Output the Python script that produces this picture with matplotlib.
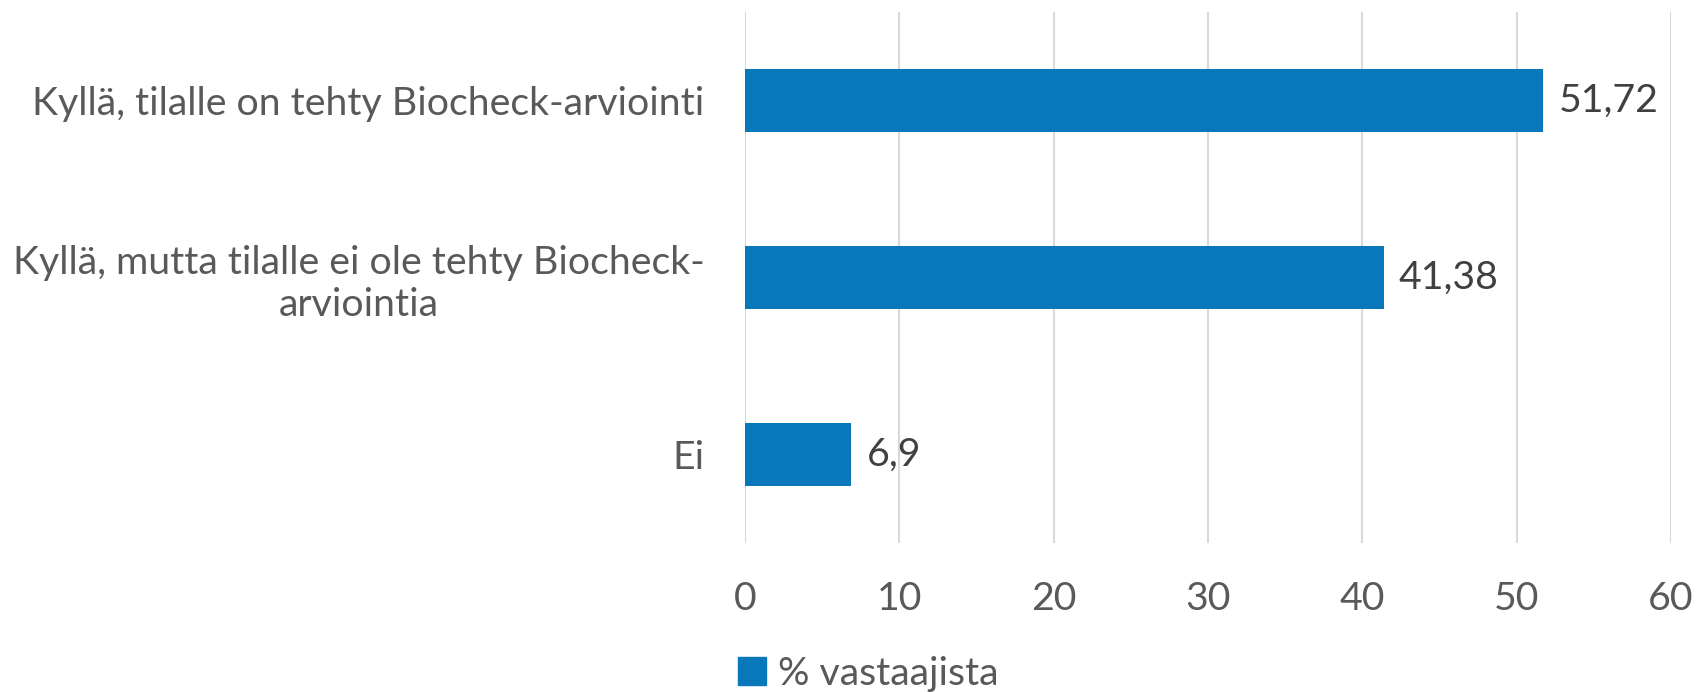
import matplotlib
matplotlib.use("Agg")
import matplotlib.pyplot as plt
from matplotlib.patches import Patch

categories = ["Kyllä, tilalle on tehty Biocheck-arviointi",
              "Kyllä, mutta tilalle ei ole tehty Biocheck-\narviointia",
              "Ei"]
values = [51.72, 41.38, 6.9]
value_labels = ["51,72", "41,38", "6,9"]
xticks = [0, 10, 20, 30, 40, 50, 60]
series_name = "% vastaajista"

plt.rcParams['font.family'] = ['Lato', 'DejaVu Sans']
color = "#0878BA"
fs = 28.3

fig = plt.figure(figsize=(17.05, 6.92), dpi=100)
ax = fig.add_axes([745/1705, 1-543/692, (1671-745)/1705, (543-12)/692])

ypos = list(range(len(categories)))
ax.barh(ypos, values, height=0.356, color=color, zorder=3)
ax.set_ylim(len(categories)-0.5, -0.5)
ax.set_xlim(0, 60)
ax.set_xticks(xticks)
ax.set_xticklabels([str(t) for t in xticks], fontsize=fs, color="#595959")
ax.set_yticks(ypos)
ax.set_yticklabels(categories, fontsize=fs, color="#595959", multialignment='center')
ax.tick_params(axis='both', length=0)
ax.tick_params(axis='x', pad=27)
ax.tick_params(axis='y', pad=29)
ax.grid(axis='x', color="#D9D9D9", linewidth=1.5, zorder=0)
for s in ax.spines.values():
    s.set_visible(False)

for y, v, lab in zip(ypos, values, value_labels):
    ax.annotate(lab, (v, y), xytext=(11, 0), textcoords='offset points',
                va='center', ha='left', fontsize=fs, color="#404040")

fig.legend(handles=[Patch(color=color, label=series_name)], loc='center left',
           bbox_to_anchor=(703/1705, 1-674/692), frameon=False, fontsize=fs,
           handlelength=0.7, handleheight=0.7, handletextpad=0.3,
           labelcolor="#595959")

fig.savefig("out.png", dpi=100)
